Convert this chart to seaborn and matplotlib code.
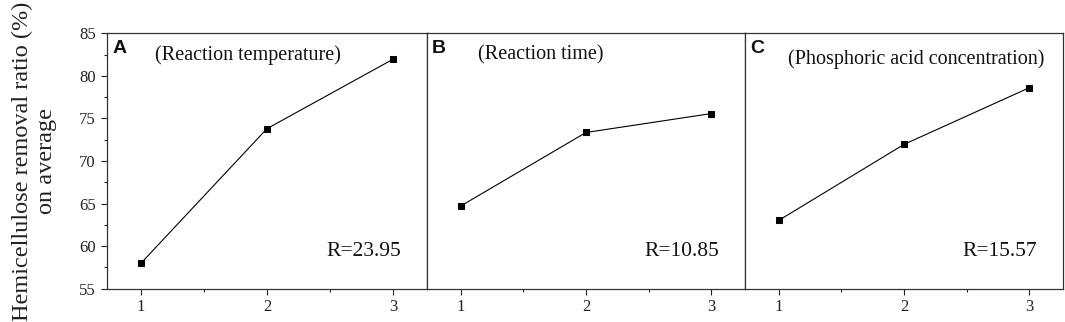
import matplotlib
matplotlib.use("Agg")
import matplotlib.pyplot as plt
import seaborn as sns
import pandas as pd
from matplotlib.ticker import MultipleLocator

sns.set_theme(style="white")
plt.rcParams['font.family'] = ['Liberation Serif', 'DejaVu Serif']

levels = [1, 2, 3]
temp_vals = [58.0, 73.8, 81.95]
time_vals = [64.72, 73.35, 75.57]
acid_vals = [63.03, 71.95, 78.60]
panel_letters = ["A", "B", "C"]
panel_titles = ["(Reaction temperature)", "(Reaction time)", "(Phosphoric acid concentration)"]
r_labels = ["R=23.95", "R=10.85", "R=15.57"]
ylabel = "Hemicellulose removal ratio (%)\non average"

series = [temp_vals, time_vals, acid_vals]

W, H = 1065, 322
fig = plt.figure(figsize=(W / 100, H / 100), dpi=100)
lefts = [107, 427, 745]
rights = [427, 745, 1063]
bottom = 1 - 288.7 / H
top = 1 - 33.3 / H
title_x = [0.44, 0.358, 0.538]
title_y = [0.915, 0.915, 0.897]

for i in range(3):
    ax = fig.add_axes([lefts[i] / W, bottom, (rights[i] - lefts[i]) / W, top - bottom])
    df = pd.DataFrame({"level": levels, "value": series[i]})
    sns.lineplot(data=df, x="level", y="value", ax=ax, color="black", lw=0.8,
                 marker="s", markersize=5, markeredgecolor="black", markerfacecolor="black")
    ax.set_xlim(0.73, 3.27)
    ax.set_ylim(55, 85)
    ax.set_xticks(levels)
    ax.xaxis.set_minor_locator(MultipleLocator(0.5))
    ax.yaxis.set_major_locator(MultipleLocator(5))
    ax.yaxis.set_minor_locator(MultipleLocator(2.5))
    ax.set_xlabel("")
    ax.set_ylabel("")
    for s in ax.spines.values():
        s.set_color("#333333")
        s.set_linewidth(0.9)
    ax.tick_params(axis="x", which="major", direction="out", length=4.5, width=0.8,
                   labelsize=12, colors="#222222", bottom=True, pad=3)
    ax.tick_params(axis="x", which="minor", direction="out", length=2.5, width=0.8, bottom=True)
    if i == 0:
        ax.tick_params(axis="y", which="major", direction="out", length=4, width=0.8,
                       labelsize=12, colors="#222222", left=True, pad=4)
        ax.tick_params(axis="y", which="minor", direction="out", length=2.5, width=0.8, left=True)
        ax.set_ylabel(ylabel, fontsize=17.5, color="#222222", labelpad=16, linespacing=1.15)
    else:
        ax.tick_params(axis="y", which="both", left=False, labelleft=False)
    ax.text(0.016, 0.972, panel_letters[i], transform=ax.transAxes, ha="left", va="top",
            fontsize=14, fontweight="bold", family=["Liberation Sans", "DejaVu Sans"], color="#111111")
    ax.text(title_x[i], title_y[i], panel_titles[i], transform=ax.transAxes,
            ha="center", va="center", fontsize=14.5, color="#111111")
    ax.text(0.92, 0.144, r_labels[i], transform=ax.transAxes, ha="right", va="center",
            fontsize=15.5, color="#111111")

fig.savefig("out.png", dpi=100)
